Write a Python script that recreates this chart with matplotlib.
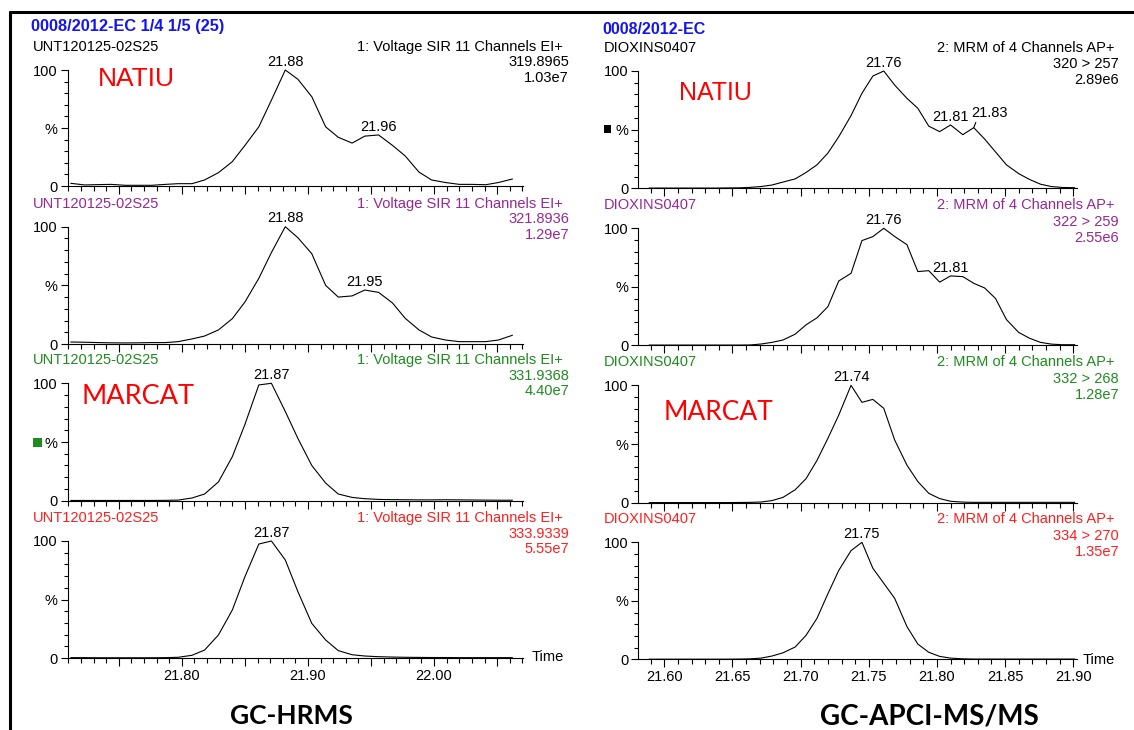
import matplotlib
matplotlib.use("Agg")
import matplotlib.pyplot as plt
import numpy as np
from matplotlib.lines import Line2D
from matplotlib.patches import Rectangle

# ---------------- data ----------------
# GC-HRMS (left column) scan times, min
hrms_time = [21.712, 21.723, 21.734, 21.744, 21.755, 21.765, 21.776, 21.787, 21.797,
             21.808, 21.818, 21.829, 21.840, 21.850, 21.861, 21.871, 21.882, 21.892,
             21.903, 21.914, 21.924, 21.935, 21.945, 21.956, 21.967, 21.977, 21.988,
             21.998, 22.009, 22.020, 22.030, 22.041, 22.051, 22.062]
hrms_319 = [2.3, 0.9, 1.2, 1.4, 0.6, 0.6, 0.6, 1.4, 2.0, 2.0, 5.2, 11.5, 21, 35, 51, 74,
            100, 92, 77, 51, 42, 37, 43, 44, 35, 26, 12, 5.2, 3.0, 1.4, 1.4, 1.1, 3.0, 6.0]
hrms_321 = [1.7, 1.5, 1.2, 1.0, 0.9, 1.0, 1.2, 1.2, 2.0, 4.3, 6.8, 12, 21.6, 35.8, 56, 78,
            100, 90.6, 77, 50, 40, 41, 46, 44, 35, 22, 12, 6.0, 3.4, 2.0, 2.0, 2.0, 3.4, 7.4]
hrms_331 = [0.2, 0.2, 0.2, 0.2, 0.2, 0.2, 0.2, 0.3, 0.5, 2.3, 5.7, 16, 37.5, 65, 98.6, 100,
            76, 53, 30, 15, 5.7, 2.8, 1.7, 1.1, 0.9, 0.8, 0.7, 0.7, 0.8, 0.7, 0.6, 0.5, 0.4, 0.4]
hrms_333 = [0.3, 0.3, 0.2, 0.2, 0.2, 0.2, 0.2, 0.3, 0.6, 2.3, 6.8, 19.7, 41, 69.5, 97.4, 100,
            83.8, 56.7, 29.6, 15.4, 6.3, 2.8, 1.7, 1.1, 0.8, 0.6, 0.5, 0.4, 0.4, 0.3, 0.3, 0.3, 0.3, 0.3]

# GC-APCI-MS/MS (right column) scan times, min
apci_time = [21.589, 21.597, 21.605, 21.614, 21.622, 21.630, 21.638, 21.646, 21.655, 21.663,
             21.671, 21.679, 21.687, 21.696, 21.704, 21.712, 21.720, 21.728, 21.737, 21.745,
             21.753, 21.761, 21.769, 21.778, 21.786, 21.794, 21.802, 21.810, 21.819, 21.827,
             21.835, 21.843, 21.851, 21.860, 21.868, 21.876, 21.884, 21.892, 21.901]
apci_320 = [0.2, 0.2, 0.2, 0.2, 0.2, 0.2, 0.2, 0.3, 0.4, 0.8, 1.5, 2.8, 5.3, 8.0, 13.5, 20,
            30, 44, 62, 81, 95.7, 100, 88, 76.7, 68.2, 53, 48.3, 54, 45.7, 51.7, 42, 31, 20,
            12.5, 7.5, 3.5, 1.5, 0.7, 0.5]
apci_322 = [0.2, 0.2, 0.2, 0.2, 0.2, 0.2, 0.2, 0.2, 0.2, 0.3, 1.1, 2.5, 4.5, 9.5, 17.5, 23.5,
            33, 55, 61.5, 89.5, 92.9, 100, 93, 86, 63, 63.8, 54, 59.3, 58.7, 53, 49, 40, 22,
            11, 6.0, 2.5, 1.0, 0.5, 0.5]
apci_332 = [0.1, 0.1, 0.1, 0.1, 0.1, 0.1, 0.1, 0.1, 0.2, 0.3, 0.6, 1.8, 4.5, 11, 20.5, 36,
            54.8, 74.7, 100, 85.5, 88, 80.4, 53.4, 32, 18, 8.0, 3.5, 1.2, 0.5, 0.3, 0.3, 0.3,
            0.3, 0.3, 0.3, 0.3, 0.3, 0.3, 0.3]
apci_334 = [0.1, 0.1, 0.1, 0.1, 0.1, 0.1, 0.1, 0.1, 0.2, 0.4, 1.0, 2.8, 5.5, 10.5, 20.5, 35,
            56, 76, 92.9, 100, 77.8, 65, 52.1, 28, 13, 6.0, 2.5, 1.0, 0.4, 0.2, 0.2, 0.2, 0.2,
            0.2, 0.2, 0.2, 0.2, 0.2, 0.2]

hrms_series = [hrms_319, hrms_321, hrms_331, hrms_333]
apci_series = [apci_320, apci_322, apci_332, apci_334]
hrms_peaks = [["21.88", "21.96"], ["21.88", "21.95"], ["21.87"], ["21.87"]]
apci_peaks = [["21.76", "21.81", "21.83"], ["21.76", "21.81"], ["21.74"], ["21.75"]]

hrms_sample = "UNT120125-02S25"
apci_sample = "DIOXINS0407"
hrms_function = "1: Voltage SIR 11 Channels EI+"
apci_function = "2: MRM of 4 Channels AP+"
hrms_mass = ["319.8965", "321.8936", "331.9368", "333.9339"]
apci_mass = ["320 > 257", "322 > 259", "332 > 268", "334 > 270"]
hrms_intensity = ["1.03e7", "1.29e7", "4.40e7", "5.55e7"]
apci_intensity = ["2.89e6", "2.55e6", "1.28e7", "1.35e7"]
hrms_title = "0008/2012-EC 1/4 1/5 (25)"
apci_title = "0008/2012-EC"
column_titles = ["GC-HRMS", "GC-APCI-MS/MS"]
row_labels = ["NATIU", "MARCAT"]

hrms_xticks = [21.75, 21.80, 21.85, 21.90, 21.95, 22.00, 22.05]
hrms_xticklabels = ["", "21.80", "", "21.90", "", "22.00", ""]
apci_xticks = [21.60, 21.65, 21.70, 21.75, 21.80, 21.85, 21.90]
apci_xticklabels = ["21.60", "21.65", "21.70", "21.75", "21.80", "21.85", "21.90"]
yticklabels = ["0", "%", "100"]

trace_colors = ["#000000", "#962896", "#1f8c1f", "#ff1f1f"]

# ---------------- figure ----------------
plt.rcParams["font.family"] = ["Liberation Sans", "DejaVu Sans"]
W, H = 1134, 730
fig = plt.figure(figsize=(W / 100, H / 100), dpi=100)


def fx(x):
    return x / W


def fy(y):
    return 1 - y / H


def txt(x, y, s, **kw):
    kw.setdefault("va", "center")
    return fig.text(fx(x), fy(y), s, **kw)


def make_axes(x0, x1, ytop, ybot):
    ax = fig.add_axes([fx(x0), fy(ybot), (x1 - x0) / W, (ybot - ytop) / H])
    ax.set_facecolor("none")
    for s in ("top", "right"):
        ax.spines[s].set_visible(False)
    for s in ("left", "bottom"):
        ax.spines[s].set_linewidth(0.8)
    ax.set_ylim(0, 100)
    ax.set_yticks([0, 50, 100])
    ax.set_yticklabels(yticklabels)
    ax.set_yticks(np.arange(10, 100, 10), minor=True)
    ax.tick_params(axis="both", which="both", direction="out", width=0.8,
                   labelsize=10.5, pad=2)
    ax.tick_params(axis="y", which="major", length=5)
    ax.tick_params(axis="y", which="minor", length=3)
    ax.tick_params(axis="x", which="major", length=6)
    ax.tick_params(axis="x", which="minor", length=3.5)
    return ax


left_rows = [(70, 186), (226.7, 344), (383.3, 500.7), (541, 658)]
right_rows = [(71, 188.3), (228.3, 345.3), (385.3, 502.7), (542.3, 659.3)]

for k in range(4):
    # ---- left: GC-HRMS ----
    ytop, ybot = left_rows[k]
    ax = make_axes(67.5, 523, ytop, ybot)
    ax.set_xlim(21.7093, 22.0705)
    ax.set_xticks(hrms_xticks)
    ax.set_xticks(np.round(np.arange(21.71, 22.075, 0.01), 3), minor=True)
    if k == 3:
        ax.set_xticklabels(hrms_xticklabels)
    else:
        ax.set_xticklabels([""] * len(hrms_xticks))
    ax.plot(hrms_time, hrms_series[k], color="black", lw=0.8, clip_on=False)
    tarr = np.array(hrms_time)
    for lab in hrms_peaks[k]:
        i = int(np.argmin(np.abs(tarr - float(lab))))
        if lab == "21.95":
            i = 22
        ax.annotate(lab, (hrms_time[i], hrms_series[k][i]), xytext=(0, 1),
                    textcoords="offset points", ha="center", va="bottom", fontsize=10.5)
    c = trace_colors[k]
    txt(33, ytop - 23, hrms_sample, ha="left", fontsize=10.5, color=c)
    txt(563, ytop - 23, hrms_function, ha="right", fontsize=10.5, color=c)
    txt(569, ytop - 7.5, hrms_mass[k], ha="right", fontsize=10.5, color=c)
    txt(569, ytop + 8, hrms_intensity[k], ha="right", fontsize=10.5, color=c)

    # ---- right: GC-APCI-MS/MS ----
    ytop, ybot = right_rows[k]
    ax = make_axes(638, 1076.5, ytop, ybot)
    ax.set_xlim(21.5807, 21.9024)
    ax.set_xticks(apci_xticks)
    ax.set_xticks(np.round(np.arange(21.59, 21.905, 0.01), 3), minor=True)
    if k == 3:
        ax.set_xticklabels(apci_xticklabels)
    else:
        ax.set_xticklabels([""] * len(apci_xticks))
    ax.plot(apci_time, apci_series[k], color="black", lw=0.8, clip_on=False)
    tarr = np.array(apci_time)
    for lab in apci_peaks[k]:
        i = int(np.argmin(np.abs(tarr - float(lab))))
        if lab == "21.75":
            i = 19
        if lab == "21.83":
            ax.annotate(lab, (apci_time[i], apci_series[k][i]), xytext=(11.5, 10.8),
                        textcoords="offset points", ha="center", va="center", fontsize=10.5,
                        arrowprops=dict(arrowstyle="-", lw=0.8, color="black",
                                        relpos=(0.15, 0.0), shrinkA=0, shrinkB=0))
        else:
            ax.annotate(lab, (apci_time[i], apci_series[k][i]), xytext=(0, 1),
                        textcoords="offset points", ha="center", va="bottom", fontsize=10.5)
    txt(604, ytop - 23, apci_sample, ha="left", fontsize=10.5, color=c)
    txt(1114.5, ytop - 23, apci_function, ha="right", fontsize=10.5, color=c)
    txt(1119, ytop - 6.5, apci_mass[k], ha="right", fontsize=10.5, color=c)
    txt(1119, ytop + 9.5, apci_intensity[k], ha="right", fontsize=10.5, color=c)

# titles
txt(31, 26, hrms_title, ha="left", fontsize=11.8, fontweight="bold", color="#1414f0")
txt(602, 29, apci_title, ha="left", fontsize=11.5, fontweight="bold", color="#1414f0")

# Time axis labels
txt(532, 657, "Time", ha="left", fontsize=10.5)
txt(1083, 660, "Time", ha="left", fontsize=10.5)

# sample annotations
txt(136, 79, row_labels[0], ha="center", fontsize=19, color="#ff0000")
txt(715.5, 93, row_labels[0], ha="center", fontsize=18, color="#ff0000")
txt(138, 396, row_labels[1], ha="center", fontsize=19.5, color="#ff0000",
    family=["Lato", "DejaVu Sans"])
txt(718, 413, row_labels[1], ha="center", fontsize=19, color="#ff0000",
    family=["Lato", "DejaVu Sans"])

# column titles
txt(291, 716, column_titles[0], ha="center", fontsize=19, fontweight="bold",
    family=["Lato", "DejaVu Sans"])
txt(929, 717, column_titles[1], ha="center", fontsize=20, fontweight="bold",
    family=["Lato", "DejaVu Sans"])

# small squares
fig.add_artist(Rectangle((fx(604), fy(133)), 7 / W, 8 / H, transform=fig.transFigure,
                         facecolor="black", edgecolor="none"))
fig.add_artist(Rectangle((fx(33), fy(447)), 9 / W, 9 / H, transform=fig.transFigure,
                         facecolor="#1f8c1f", edgecolor="none"))

# frame lines
fig.add_artist(Line2D([fx(10), fx(10)], [fy(11), fy(730)], lw=2.2, color="black",
                      transform=fig.transFigure, solid_capstyle="butt"))
fig.add_artist(Line2D([fx(9), fx(1134)], [fy(11.5), fy(11.5)], lw=2.2, color="black",
                      transform=fig.transFigure, solid_capstyle="butt"))

fig.savefig("out.png", dpi=100, facecolor="white")
